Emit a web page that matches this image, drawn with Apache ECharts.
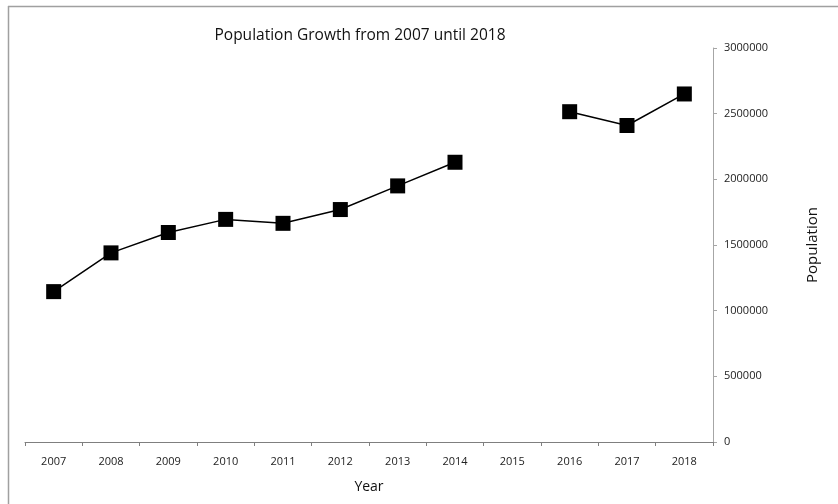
<!DOCTYPE html>
<html>
<head>
<meta charset="utf-8">
<script src="https://cdn.jsdelivr.net/npm/echarts@6/dist/echarts.min.js"></script>
<style>html,body{margin:0;padding:0;background:#fff}#c{width:838px;height:504px}</style>
</head>
<body>
<div id="c"></div>
<script>
var years = ['2007','2008','2009','2010','2011','2012','2013','2014','2015','2016','2017','2018'];
var population = [1145000, 1440000, 1595000, 1695000, 1665000, 1770000, 1950000, 2130000, '-', 2515000, 2410000, 2650000];
var yTicks = {min: 0, max: 3000000, interval: 500000};
var titleText = 'Population Growth from 2007 until 2018';

var font = '"Open Sans", "Liberation Sans", sans-serif';
var chart = echarts.init(document.getElementById('c'), null, {renderer: 'canvas'});
chart.setOption({
  animation: false,
  backgroundColor: '#fff',
  title: {
    text: titleText,
    left: 355, top: 23, textAlign: 'center',
    textStyle: {fontFamily: font, fontSize: 15.5, fontWeight: 'normal', color: '#111'}
  },
  graphic: [
    {type: 'line', shape: {x1: 8, y1: 6.5, x2: 838, y2: 6.5}, style: {stroke: '#a0a0a0', lineWidth: 1.5}},
    {type: 'line', shape: {x1: 8.5, y1: 6, x2: 8.5, y2: 504}, style: {stroke: '#a0a0a0', lineWidth: 1.5}}
  ],
  grid: {left: 25, right: 125, top: 48, bottom: 62, containLabel: false},
  xAxis: {
    type: 'category',
    data: years,
    boundaryGap: true,
    name: 'Year',
    nameLocation: 'middle',
    nameGap: 38,
    nameTextStyle: {fontFamily: font, fontSize: 14, color: '#111'},
    axisLine: {show: true, lineStyle: {color: '#7f7f7f', width: 1}},
    axisTick: {show: true, alignWithLabel: false, length: 4, lineStyle: {color: '#7f7f7f'}},
    axisLabel: {fontFamily: font, fontSize: 11, color: '#222', margin: 14},
    splitLine: {show: false}
  },
  yAxis: {
    type: 'value',
    position: 'right',
    min: yTicks.min, max: yTicks.max, interval: yTicks.interval,
    name: 'Population',
    nameLocation: 'middle',
    nameRotate: 90,
    nameGap: 92,
    nameTextStyle: {fontFamily: font, fontSize: 15, color: '#111'},
    axisLine: {show: true, lineStyle: {color: '#a6a6a6', width: 1}},
    axisTick: {show: true, length: 4, lineStyle: {color: '#a6a6a6'}},
    axisLabel: {fontFamily: font, fontSize: 11, color: '#222', margin: 11,
      formatter: function (v) { return String(v); }},
    splitLine: {show: false}
  },
  series: [{
    type: 'line',
    data: population,
    connectNulls: false,
    symbol: 'rect',
    symbolSize: 15,
    itemStyle: {color: '#000', borderRadius: 2},
    lineStyle: {color: '#000', width: 1.5}
  }]
});
</script>
</body>
</html>
